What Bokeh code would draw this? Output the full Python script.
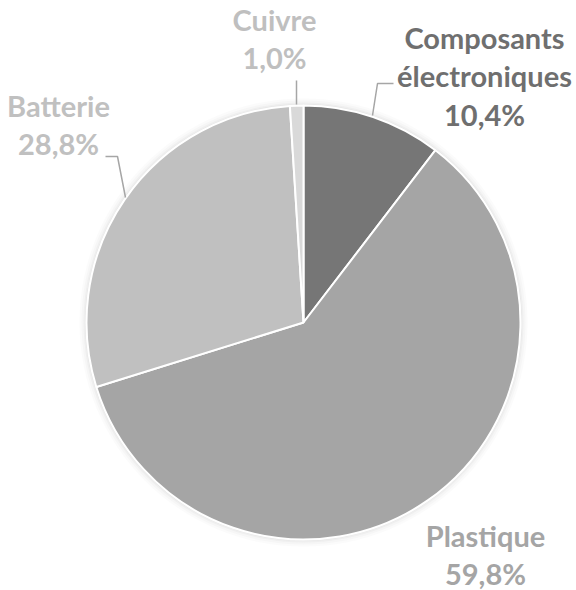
import numpy as np
from bokeh.plotting import figure
from bokeh.models import Range1d
from bokeh.core.properties import value
from bokeh.embed import file_html
from bokeh.resources import INLINE

categories = ["Composants électroniques", "Plastique", "Batterie", "Cuivre"]
values = [10.4, 59.8, 28.8, 1.0]
labels = ["Composants\nélectroniques\n10,4%", "Plastique\n59,8%", "Batterie\n28,8%", "Cuivre\n1,0%"]
colors = ["#767676", "#a5a5a5", "#c0c0c0", "#d9d9d9"]
text_colors = ["#6f6f6f", "#a5a5a5", "#c0c0c0", "#bfbfbf"]

W, H = 576, 590
p = figure(width=W, height=H, output_backend="svg", toolbar_location=None,
           x_range=Range1d(0, W), y_range=Range1d(0, H), min_border=0)
p.axis.visible = False
p.grid.visible = False
p.outline_line_color = None
p.background_fill_color = "white"

def Y(img_y):
    return 590 - img_y

cx, cy, r = 303, Y(322), 217

# soft shadow
for k, a in [(7, 0.03), (5, 0.04), (3, 0.06), (1.5, 0.08)]:
    p.circle(x=[cx], y=[cy], radius=r + k, fill_color="#888888", fill_alpha=a, line_color=None)

vals = np.array(values)
ang = vals / vals.sum() * 360.0
ends = 90 - np.cumsum(ang)
starts = ends + ang
p.wedge(x=cx, y=cy, radius=r, start_angle=starts, end_angle=ends, direction="clock",
        start_angle_units="deg", end_angle_units="deg",
        fill_color=colors, line_color="white", line_width=2)

# leader lines
p.line(x=[393, 377, 372], y=[Y(83), Y(83), Y(115)], line_color="#a6a6a6", line_width=1.5)
p.line(x=[105, 117, 125], y=[Y(156), Y(156), Y(197)], line_color="#a6a6a6", line_width=1.5)
p.line(x=[296, 296], y=[Y(80), Y(104)], line_color="#a6a6a6", line_width=1.5)

label_x = [484, 485, 58, 274]
label_y = [Y(75), Y(554), Y(124), Y(38)]
p.text(x=label_x, y=label_y, text=labels, text_color=text_colors,
       text_font=value("Lato"), text_font_style="bold", text_font_size="29px",
       text_align="center", text_baseline="middle", text_line_height=1.1)

open("out.html", "w").write(file_html(p, INLINE))
